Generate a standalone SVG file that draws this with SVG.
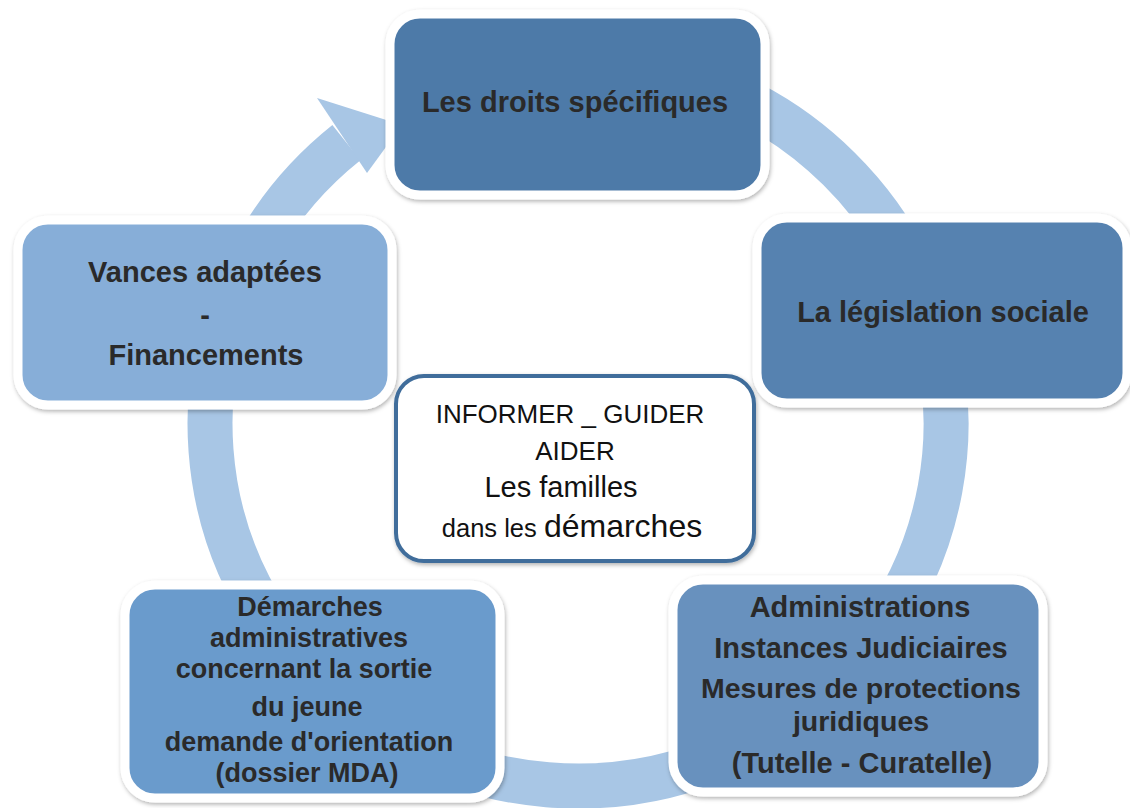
<svg xmlns="http://www.w3.org/2000/svg" width="1130" height="808" viewBox="0 0 1130 808">
<defs>
<filter id="sh" x="-10%" y="-10%" width="120%" height="125%">
<feDropShadow dx="1" dy="2" stdDeviation="2" flood-color="#000" flood-opacity="0.3"/>
</filter>
</defs>
<style>
.box{stroke:#fff;stroke-width:9;filter:url(#sh)}
.t{font-family:"Liberation Sans",Arial,sans-serif;font-weight:bold;font-size:29px;fill:#2a2a2a;text-anchor:middle}
.s{font-size:27px}
.c{font-family:"Liberation Sans",Arial,sans-serif;font-size:26px;fill:#111;text-anchor:middle}
.ring{fill:none;stroke:#a8c6e5;stroke-width:45}
</style>
<rect width="1130" height="808" fill="#fff"/>
<g id="connectors">
<path class="ring" d="M 514.1 67.5 A 368 362 0 1 1 346.4 142.7"/>
<polygon points="317,98 402,125 367,173" fill="#a8c6e5"/>
</g>
<g id="droits">
<rect class="box" x="390" y="14" width="375" height="181" rx="30" fill="#4e7aa8"/>
<text class="t" x="575" y="112">Les droits spécifiques</text>
</g>
<g id="legislation">
<rect class="box" x="757" y="218" width="370" height="185" rx="30" fill="#5682b0"/>
<text class="t" x="943" y="322">La législation sociale</text>
</g>
<g id="administrations">
<rect class="box" x="673" y="580" width="370" height="212" rx="30" fill="#6891be"/>
<text class="t" x="860" y="617">Administrations</text>
<text class="t" x="861" y="658">Instances Judiciaires</text>
<text class="t" x="861" y="698" style="font-size:28.5px">Mesures de protections</text>
<text class="t" x="861" y="731" style="font-size:28.5px">juridiques</text>
<text class="t" x="862" y="773">(Tutelle - Curatelle)</text>
</g>
<g id="demarches">
<rect class="box" x="125" y="585" width="375" height="213" rx="30" fill="#6b9bcc"/>
<text class="t s" x="310" y="616">Démarches</text>
<text class="t s" x="309" y="647">administratives</text>
<text class="t s" x="304" y="678">concernant la sortie</text>
<text class="t s" x="307" y="716">du jeune</text>
<text class="t s" x="309" y="751">demande d'orientation</text>
<text class="t s" x="307" y="782">(dossier MDA)</text>
</g>
<g id="vances">
<rect class="box" x="18" y="220" width="374" height="185" rx="30" fill="#87aed8"/>
<text class="t" x="205" y="282">Vances adaptées</text>
<text class="t" x="205" y="325">-</text>
<text class="t" x="206" y="365">Financements</text>
</g>
<g id="centre">
<rect x="396" y="376" width="358" height="185" rx="28" fill="#fff" stroke="#3f6d9b" stroke-width="4" filter="url(#sh)"/>
<text class="c" x="570" y="423" font-size="26.5">INFORMER _ GUIDER</text>
<text class="c" x="575" y="460">AIDER</text>
<text class="c" x="561" y="497" style="font-size:29px">Les familles</text>
<text class="c" x="572" y="537"><tspan style="font-size:25.5px">dans les </tspan><tspan style="font-size:32px">démarches</tspan></text>
</g>
</svg>
